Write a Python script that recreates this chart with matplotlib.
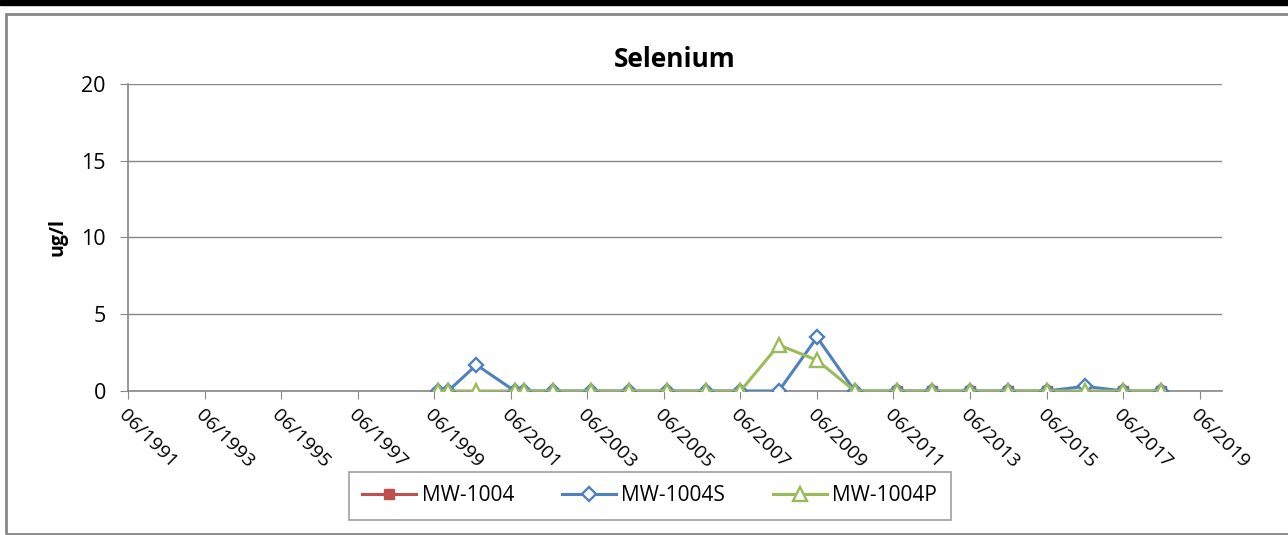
import datetime as dt
import matplotlib
matplotlib.use("Agg")
import matplotlib.pyplot as plt
import matplotlib.dates as mdates
from matplotlib.ticker import FixedLocator
from matplotlib.patches import Rectangle

plt.rcParams['font.family'] = ['Open Sans', 'DejaVu Sans']

# sample dates (MW-1004S and MW-1004P share them)
dates = ["1999-07-05", "1999-10-12", "2000-07-08", "2001-07-08", "2001-10-08",
         "2002-07-05", "2003-07-05", "2004-07-05", "2005-07-05", "2006-07-05",
         "2007-06-02", "2008-06-02", "2009-06-02", "2010-05-27", "2011-07-05",
         "2012-06-02", "2013-06-02", "2014-06-02", "2015-06-02", "2016-06-02",
         "2017-06-02", "2018-06-02"]
mw1004s = [0, 0, 1.7, 0, 0, 0, 0, 0, 0, 0, 0, 0, 3.5, 0, 0, 0, 0, 0, 0, 0.3, 0, 0]
mw1004p = [0, 0, 0, 0, 0, 0, 0, 0, 0, 0, 0, 3.0, 2.0, 0, 0, 0, 0, 0, 0, 0, 0, 0]

dates_1004 = ["2011-07-05", "2012-06-02", "2013-06-02", "2014-06-02",
              "2015-06-02", "2016-06-02", "2017-06-02", "2018-06-02"]
mw1004 = [0, 0, 0, 0, 0, 0, 0, 0]

tick_years = list(range(1991, 2020, 2))


def to_dt(lst):
    return [dt.datetime.strptime(s, "%Y-%m-%d") for s in lst]


fig = plt.figure(figsize=(12.88, 5.35), dpi=100)
ax = fig.add_axes([0.0994, 0.2692, 0.8494, 0.5738])

ax.plot(to_dt(dates_1004), mw1004, color="#C0504D", lw=2.2, marker="s",
        markersize=7, label="MW-1004", zorder=3)
ax.plot(to_dt(dates), mw1004s, color="#4F81BD", lw=2.2, marker="D",
        markersize=7.5, markerfacecolor="white", markeredgewidth=1.7,
        label="MW-1004S", zorder=4)
ax.plot(to_dt(dates), mw1004p, color="#9BBB59", lw=2.2, marker="^",
        markersize=10.5, markerfacecolor="white", markeredgewidth=1.7,
        label="MW-1004P", zorder=5)

ax.set_xlim(dt.datetime(1991, 6, 1), dt.datetime(2020, 1, 1))
ax.set_ylim(0, 20)
ax.set_yticks([0, 5, 10, 15, 20])
ax.xaxis.set_major_locator(FixedLocator(
    [mdates.date2num(dt.datetime(y, 6, 1)) for y in tick_years]))
ax.xaxis.set_major_formatter(mdates.DateFormatter("%m/%Y"))

ax.grid(axis="y", color="#888888", lw=1)
ax.set_axisbelow(True)
for s in ["top", "right"]:
    ax.spines[s].set_visible(False)
for s in ["left", "bottom"]:
    ax.spines[s].set_color("#888888")
    ax.spines[s].set_linewidth(1.2)
ax.tick_params(axis="both", colors="#888888", direction="out", length=6,
               labelcolor="black", labelsize=15.5)
ax.tick_params(axis="y", pad=10)
ax.tick_params(axis="x", labelsize=14, pad=5)

for lab in ax.get_xticklabels():
    lab.set_rotation(-45)
    lab.set_ha("left")
    lab.set_va("top")
    lab.set_rotation_mode("anchor")

ax.set_ylabel("ug/l", fontsize=14, fontweight="bold", labelpad=10)
ax.set_title("Selenium", fontsize=19, fontweight="bold", pad=12)

leg = fig.legend(loc="center", bbox_to_anchor=(0.5045, 0.073), ncol=3,
                 fontsize=15, frameon=True, fancybox=False,
                 handlelength=2.6, handletextpad=0.25, columnspacing=2.3,
                 borderpad=0.65, borderaxespad=0)
leg.get_frame().set_edgecolor("#888888")
leg.get_frame().set_linewidth(1.2)

# outer chart border and top bar
fig.patches.append(Rectangle((6 / 1288, 1 / 535), 1.5, 520 / 535,
                             transform=fig.transFigure, fill=False,
                             edgecolor="#888888", lw=2))
fig.patches.append(Rectangle((0, 1 - 5 / 535), 1, 5 / 535,
                             transform=fig.transFigure, color="black"))

fig.savefig("out.png", dpi=100)
